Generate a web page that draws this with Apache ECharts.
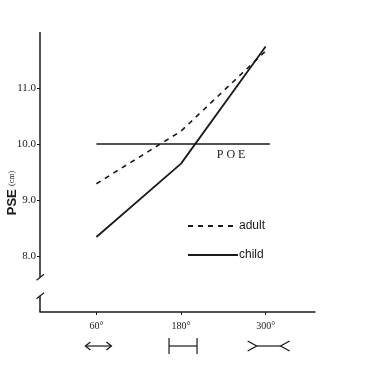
<!DOCTYPE html>
<html>
<head>
<meta charset="utf-8">
<script src="https://cdn.jsdelivr.net/npm/echarts@6/dist/echarts.min.js"></script>
<style>
  html, body { margin: 0; padding: 0; background: #fff; }
  #graph { width: 391px; height: 365px; }
</style>
</head>
<body>
<div id="graph"></div>
<script>
// angle of the fins (degrees) and the PSE values
const angles = [60, 180, 300];
const tickLabels = ['60°', '180°', '300°'];
const adult = [9.29, 10.23, 11.66];
const child = [8.34, 9.65, 11.74];
const poeLevel = 10.0;
const poeSpan = [60, 306];
const yTicks = [8, 9, 10, 11];

const ink = '#1a1a1a';
const serif = '"Liberation Serif", "DejaVu Serif", serif';

const dom = document.getElementById('graph');
const chart = echarts.init(dom);

const option = {
  animation: false,
  backgroundColor: '#fff',
  grid: { left: 40, top: 32, right: 76, bottom: 53 },
  legend: {
    orient: 'vertical',
    left: 182,
    top: 215,
    itemWidth: 50,
    itemHeight: 10,
    itemGap: 17,
    data: ['adult', 'child'],
    itemStyle: { opacity: 0 },
    textStyle: { fontFamily: '"Liberation Sans", Arial, sans-serif', fontSize: 12, color: ink, padding: [0, 0, 0, -4] }
  },
  xAxis: {
    type: 'value',
    min: -20,
    max: 370,
    splitLine: { show: false },
    axisLine: { onZero: false, lineStyle: { color: ink, width: 1.5 } },
    axisTick: { customValues: angles, length: 3, lineStyle: { color: ink } },
    axisLabel: {
      customValues: angles,
      margin: 9,
      fontFamily: serif,
      fontSize: 10,
      color: ink,
      formatter: v => tickLabels[angles.indexOf(v)]
    }
  },
  yAxis: {
    type: 'value',
    min: 7,
    max: 12,
    splitLine: { show: false },
    axisLine: { show: false, onZero: false },
    axisTick: { customValues: yTicks, length: 3, lineStyle: { color: ink } },
    axisLabel: {
      customValues: yTicks,
      margin: 4,
      fontFamily: serif,
      fontSize: 11,
      color: ink,
      formatter: v => v.toFixed(1)
    }
  },
  series: [
    {
      name: 'adult',
      type: 'line',
      symbol: 'none',
      data: angles.map((a, i) => [a, adult[i]]),
      lineStyle: { color: ink, width: 1.6, type: [5, 5] },
      itemStyle: { color: ink }
    },
    {
      name: 'child',
      type: 'line',
      symbol: 'none',
      data: angles.map((a, i) => [a, child[i]]),
      lineStyle: { color: ink, width: 1.8 },
      itemStyle: { color: ink }
    },
    {
      name: 'POE',
      type: 'line',
      symbol: 'circle',
      symbolSize: 0,
      showSymbol: true,
      data: [
        [poeSpan[0], poeLevel],
        { value: [251, poeLevel], label: { show: true, position: 'bottom', distance: 5, formatter: 'P O E', fontFamily: serif, fontSize: 12, color: ink } },
        [poeSpan[1], poeLevel]
      ],
      lineStyle: { color: ink, width: 1.4 },
      itemStyle: { color: ink }
    }
  ]
};
chart.setOption(option);

// axis decorations: broken y axis, fin drawings below the angle labels
const px = (x, y) => chart.convertToPixel({ gridIndex: 0 }, [x, y]);
const axX = px(-20, 12)[0];
const axTop = px(-20, 12)[1];
const axBot = px(-20, 7)[1];
const brkA = px(-20, 7.62)[1];
const brkB = px(-20, 7.29)[1];
const line = (x1, y1, x2, y2, w) => ({
  type: 'line', shape: { x1, y1, x2, y2 }, style: { stroke: ink, lineWidth: w || 1.5 }, silent: true
});
const poly = (pts) => ({
  type: 'polyline', shape: { points: pts }, style: { stroke: ink, lineWidth: 1.3, fill: null }, silent: true
});

const symY = 346;
const c60 = px(60, 7)[0] + 2;
const c180 = px(180, 7)[0] + 2;
const c300 = px(300, 7)[0] + 3;

chart.setOption({
  graphic: [
    line(axX, axTop, axX, brkA),
    line(axX, brkB, axX, axBot),
    line(axX - 3.5, brkA + 3, axX + 4, brkA - 3, 1.3),
    line(axX - 3.5, brkB + 3, axX + 4, brkB - 3, 1.3),
    // 60°: double-headed arrow
    line(c60 - 13, symY, c60 + 13, symY, 1.2),
    poly([[c60 - 8, symY - 4], [c60 - 13, symY], [c60 - 8, symY + 4]]),
    poly([[c60 + 8, symY - 4], [c60 + 13, symY], [c60 + 8, symY + 4]]),
    // 180°: plain bar with end stops
    line(c180 - 14, symY, c180 + 14, symY, 1.2),
    line(c180 - 14, symY - 8, c180 - 14, symY + 8, 1.2),
    line(c180 + 14, symY - 8, c180 + 14, symY + 8, 1.2),
    // 300°: fins out
    line(c300 - 12, symY, c300 + 12, symY, 1.2),
    poly([[c300 - 21, symY - 5], [c300 - 12, symY], [c300 - 21, symY + 5]]),
    poly([[c300 + 21, symY - 5], [c300 + 12, symY], [c300 + 21, symY + 5]]),
    {
      type: 'text',
      x: 12,
      y: 193,
      rotation: Math.PI / 2,
      silent: true,
      style: {
        text: '{b|PSE} {s|(cm)}',
        align: 'center',
        verticalAlign: 'middle',
        rich: {
          b: { fontFamily: '"Liberation Sans", Arial, sans-serif', fontWeight: 'bold', fontSize: 13, fill: ink },
          s: { fontFamily: serif, fontSize: 8, fill: ink }
        }
      }
    }
  ]
});
</script>
</body>
</html>
